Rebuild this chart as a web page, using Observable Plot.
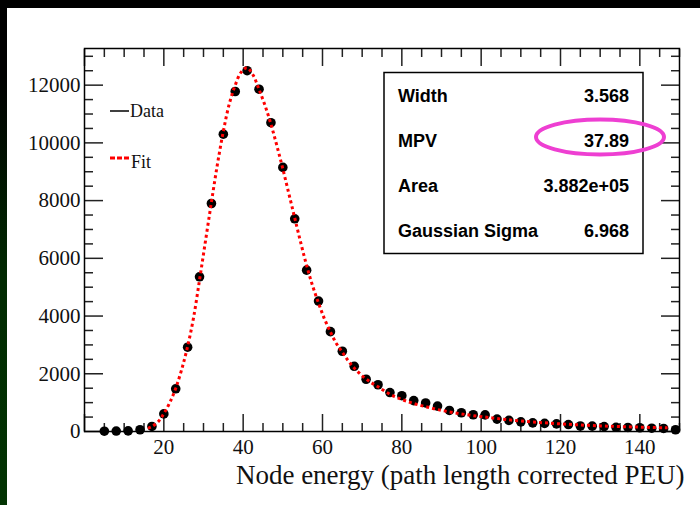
<!DOCTYPE html>
<html>
<head>
<meta charset="utf-8">
<script src="https://cdn.jsdelivr.net/npm/d3@7"></script>
<script src="https://cdn.jsdelivr.net/npm/@observablehq/plot@0.6"></script>
<style>
  html, body { margin: 0; padding: 0; }
  body { width: 700px; height: 505px; background: #000; position: relative; overflow: hidden; }
  #strip { position: absolute; left: 0; top: 0; width: 7px; height: 505px;
           background: linear-gradient(to bottom, #000 0%, #000 15%, #012a01 55%, #023402 100%); }
  #panel { position: absolute; left: 7px; top: 8px; right: 0; bottom: 0; background: #fff; }
  #chart { position: absolute; left: 0; top: 0; }
</style>
</head>
<body>
<div id="strip"></div>
<div id="panel"></div>
<div id="chart"></div>
<script>
// ---- data ----
const binCenters = [5, 8, 11, 14, 17, 20, 23, 26, 29, 32, 35, 38, 41, 44, 47, 50, 53, 56, 59, 62,
  65, 68, 71, 74, 77, 80, 83, 86, 89, 92, 95, 98, 101, 104, 107, 110, 113, 116, 119, 122,
  125, 128, 131, 134, 137, 140, 143, 146, 149];
const counts = [10, 15, 20, 60, 175, 610, 1480, 2920, 5360, 7900, 10300, 11780, 12500, 11860, 10700, 9150, 7370, 5590, 4520, 3460,
  2780, 2260, 1810, 1620, 1350, 1240, 1070, 990, 880, 730, 650, 580, 575, 430, 385, 335, 300, 280, 265, 240,
  190, 185, 170, 145, 140, 130, 115, 105, 60];

const fitX = [16, 17, 18.5, 20, 21.5, 23, 24.5, 26, 27.5, 29, 30.5, 32, 33.5, 35, 36.5, 38, 39.5, 41, 42.5, 44,
  45.5, 47, 48.5, 50, 51.5, 53, 54.5, 56, 57.5, 59, 60.5, 62, 63.5, 65, 66.5, 68, 70, 72, 74, 77,
  80, 83, 86, 89, 92, 95, 98, 101, 104, 107, 110, 113, 116, 119, 122, 125, 128, 131, 134, 137,
  140, 143, 146, 147];
const fitY = [110, 170, 330, 620, 1000, 1500, 2150, 2950, 3950, 5250, 6600, 7950, 9250, 10400, 11350, 12000, 12450, 12600, 12350, 11850,
  11300, 10650, 9900, 9100, 8250, 7400, 6550, 5750, 5050, 4450, 3900, 3450, 3050, 2750, 2450, 2200, 1930, 1720, 1550, 1290,
  1110, 970, 860, 760, 680, 610, 550, 500, 450, 405, 365, 330, 300, 272, 248, 226, 207, 190, 175, 162,
  150, 140, 130, 127];

const xMajor = [0, 20, 40, 60, 80, 100, 120, 140];
const xLabels = [20, 40, 60, 80, 100, 120, 140];
const yMajor = [0, 2000, 4000, 6000, 8000, 10000, 12000];
const xTitle = "Node energy (path length corrected PEU)";
const legendNames = ["Data", "Fit"];
const statNames = ["Width", "MPV", "Area", "Gaussian Sigma"];
const statValues = ["3.568", "37.89", "3.882e+05", "6.968"];

// ---- build tables ----
const points = binCenters.map((x, i) => ({x, y: counts[i]}));
const fit = fitX.map((x, i) => ({x, y: fitY[i]}));
const xMinor = d3.range(0, 151, 5).filter(v => v % 20 !== 0);
const yMinor = d3.range(0, 13300, 500).filter(v => v % 2000 !== 0);

const serif = "'Liberation Serif', 'Times New Roman', serif";
const sans = "'Liberation Sans', Arial, sans-serif";
const tickStyle = {stroke: "#222", strokeWidth: 1.5, fill: "none", label: null};

const chart = Plot.plot({
  width: 700,
  height: 505,
  marginLeft: 84,
  marginRight: 21,
  marginTop: 48,
  marginBottom: 74,
  x: {domain: [0, 150]},
  y: {domain: [0, 13270]},
  style: {background: "transparent", fontFamily: serif, color: "#000", overflow: "visible"},
  marks: [
    // inward ticks on all four sides
    Plot.axisX(xMajor, {anchor: "bottom", tickSize: -17, ...tickStyle}),
    Plot.axisX(xMinor, {anchor: "bottom", tickSize: -8, ...tickStyle}),
    Plot.axisX(xMajor, {anchor: "top", tickSize: -17, ...tickStyle}),
    Plot.axisX(xMinor, {anchor: "top", tickSize: -8, ...tickStyle}),
    Plot.axisY(yMajor, {anchor: "left", tickSize: -19, ...tickStyle}),
    Plot.axisY(yMinor, {anchor: "left", tickSize: -9, ...tickStyle}),
    Plot.axisY(yMajor, {anchor: "right", tickSize: -19, ...tickStyle}),
    Plot.axisY(yMinor, {anchor: "right", tickSize: -9, ...tickStyle}),
    // tick labels
    Plot.axisX(xLabels, {anchor: "bottom", tickSize: 0, tickPadding: 8, fontSize: 21, fill: "#111",
      tickFormat: d => String(d), label: null}),
    Plot.axisY(yMajor, {anchor: "left", tickSize: 0, tickPadding: 4, fontSize: 21, fill: "#111",
      tickFormat: d => String(d), label: null}),
    // axis title
    Plot.text([xTitle], {frameAnchor: "bottom-right", text: d => d, textAnchor: "end", lineAnchor: "bottom",
      dy: 52, dx: 5, fontSize: 27, fill: "#111", fontFamily: serif}),
    Plot.frame({stroke: "#000", strokeWidth: 1.5}),
    // data and fit
    Plot.dot(points, {x: "x", y: "y", r: 4.8, fill: "#000", stroke: "none"}),
    Plot.line(fit, {x: "x", y: "y", stroke: "#ff0000", strokeWidth: 3, strokeDasharray: "3,3",
      strokeLinecap: "butt", strokeLinejoin: "miter", curve: "catmull-rom"})
  ]
});

document.getElementById("chart").appendChild(chart);

// ---- legend, stats box and highlight (pad-coordinate annotations) ----
const svg = d3.select(chart);
const ann = svg.append("g").attr("text-anchor", "start");

// legend
ann.append("line").attr("x1", 110).attr("x2", 129).attr("y1", 111).attr("y2", 111)
  .attr("stroke", "#000").attr("stroke-width", 1.5).attr("stroke-linecap", "butt");
ann.append("text").attr("x", 130).attr("y", 117).text(legendNames[0]).attr("text-anchor", "start")
  .attr("font-family", serif).attr("font-size", 18).attr("fill", "#111");
ann.append("line").attr("x1", 110).attr("x2", 129).attr("y1", 158).attr("y2", 158)
  .attr("stroke", "#ff0000").attr("stroke-width", 3).attr("stroke-dasharray", "5,2").attr("stroke-linecap", "butt");
ann.append("text").attr("x", 131).attr("y", 168).text(legendNames[1]).attr("text-anchor", "start")
  .attr("font-family", serif).attr("font-size", 18).attr("fill", "#111");

// stats box
ann.append("rect").attr("x", 384).attr("y", 72.5).attr("width", 259).attr("height", 181)
  .attr("fill", "#fff").attr("stroke", "#000").attr("stroke-width", 1.5);
const rowBase = [102, 147, 192, 237];
statNames.forEach((name, i) => {
  ann.append("text").attr("x", 398).attr("y", rowBase[i]).text(name).attr("text-anchor", "start")
    .attr("font-family", sans).attr("font-weight", "bold").attr("font-size", 18).attr("fill", "#000");
  ann.append("text").attr("x", 629).attr("y", rowBase[i]).text(statValues[i])
    .attr("text-anchor", "end")
    .attr("font-family", sans).attr("font-weight", "bold").attr("font-size", 18).attr("fill", "#000");
});

// magenta highlight ellipse around MPV value
ann.append("ellipse").attr("cx", 600).attr("cy", 137).attr("rx", 64).attr("ry", 17.5)
  .attr("fill", "none").attr("stroke", "#ee3fd2").attr("stroke-width", 4);
</script>
</body>
</html>
